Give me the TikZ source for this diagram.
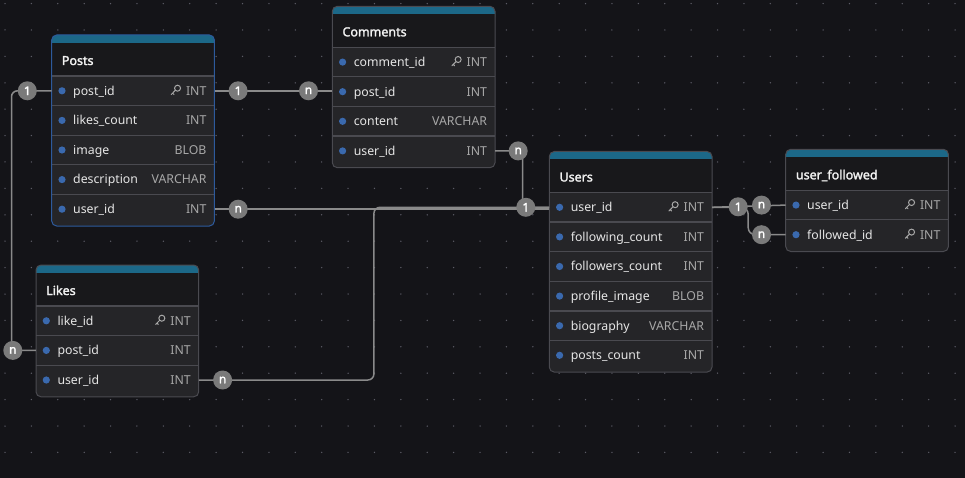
\documentclass[tikz,border=0pt]{standalone}
\usepackage{fontspec}
\setmainfont{Noto Sans}
\newfontfamily\heavysans{Noto Sans}[FakeBold=2]
\usetikzlibrary{calc}
\definecolor{canvasc}{HTML}{141418}
\definecolor{gridc}{HTML}{5C5C66}
\definecolor{rowbg}{HTML}{252528}
\definecolor{headbg}{HTML}{18181B}
\definecolor{borderc}{HTML}{4A4A50}
\definecolor{sepc}{HTML}{4A4A50}
\definecolor{tealc}{HTML}{1C6888}
\definecolor{postb}{HTML}{2D5A9C}
\definecolor{dotc}{HTML}{3A69AE}
\definecolor{namec}{HTML}{E6E6E6}
\definecolor{typec}{HTML}{A8A8A8}
\definecolor{titlec}{HTML}{F2F2F2}
\definecolor{connc}{HTML}{8A8A8A}
\definecolor{badgec}{HTML}{7A7A7A}
\definecolor{keyc}{HTML}{A8A8A8}
\tikzset{
  conn/.style={draw=connc, line width=1.5pt},
  badge/.style={circle, fill=badgec, text=white, minimum size=19pt, inner sep=0pt,
    font=\heavysans\fontsize{12}{12}\selectfont},
  rowbox/.style={minimum width=162.7pt, minimum height=29.6pt, inner sep=0pt},
  namet/.style={text=namec, inner sep=0pt, anchor=base west, font=\fontsize{12.3}{14}\selectfont},
  typet/.style={text=typec, inner sep=0pt, anchor=base east, font=\fontsize{12.3}{14}\selectfont},
  titlet/.style={text=titlec, inner sep=0pt, anchor=base west, font=\heavysans\fontsize{12.5}{14}\selectfont},
}
\newcommand\drawkey[1]{%
  \begin{scope}[shift={(#1)}]
    \draw[keyc, line width=1pt] (-8.3,-2.6) circle (3pt);
    \draw[keyc, line width=1pt, line cap=round] (-10.5,-0.5) -- (-14.5,3.6) (-13.2,2.3) -- (-11.9,3.6);
  \end{scope}}
% #1 id, #2 left, #3 top, #4 title, #5 rows, #6 border colour, #7 row list
\newcommand\ertable[7]{%
  \pgfmathsetmacro\tB{#3+41+#5*29.6+2}
  \fill[rowbg, rounded corners=5pt] (#2,#3) rectangle (#2+162.7,\tB);
  \fill[tealc, rounded corners=5pt] (#2,#3) rectangle (#2+162.7,#3+16);
  \fill[headbg] (#2,#3+8) rectangle (#2+162.7,#3+41);
  \foreach \k in {1,...,#5} {\draw[sepc, line width=1.2pt] (#2,#3+41+\k*29.6-29.6) -- ++(162.7,0);}
  \draw[#6, line width=1pt, rounded corners=5pt] (#2,#3) rectangle (#2+162.7,\tB);
  \node[titlet] (#1-title) at (#2+10,#3+30) {#4};
  \foreach \nm/\ty/\key [count=\i] in {#7} {%
    \node[rowbox] (#1-\i) at (#2+81.35,#3+41+\i*29.6-14.8) {};
    \fill[dotc] ([xshift=10.5pt]#1-\i.west) circle (3.6pt);
    \node[namet] (#1-n\i) at ([xshift=21.5pt,yshift=-4.4pt]#1-\i.west) {\nm};
    \node[typet] (#1-t\i) at ([xshift=-8pt,yshift=-4.4pt]#1-\i.east) {\ty};
    \ifnum\key=1 \drawkey{#1-t\i.west}\fi
  }}
\begin{document}
\begin{tikzpicture}[x=1pt,y=-1pt]
\fill[canvasc] (0,0) rectangle (965,478);
\useasboundingbox (0,0) rectangle (965,478);
\foreach \i in {0,...,36} {\foreach \j in {0,...,18} {\fill[gridc] (5+26.39*\i,3.6+26.4*\j) circle (0.75pt);}}

\ertable{posts}{51.7}{35}{Posts}{5}{postb}{post\_id/INT/1,likes\_count/INT/0,image/BLOB/0,description/VARCHAR/0,user\_id/INT/0}
\ertable{comments}{332.3}{6.3}{Comments}{4}{borderc}{comment\_id/INT/1,post\_id/INT/0,content/VARCHAR/0,user\_id/INT/0}
\ertable{users}{549.3}{151.5}{Users}{6}{borderc}{user\_id/INT/1,following\_count/INT/0,followers\_count/INT/0,profile\_image/BLOB/0,biography/VARCHAR/0,posts\_count/INT/0}
\ertable{uf}{785.7}{149.3}{user\_followed}{2}{borderc}{user\_id/INT/1,followed\_id/INT/1}
\ertable{likes}{36}{265}{Likes}{3}{borderc}{like\_id/INT/1,post\_id/INT/0,user\_id/INT/0}

% connectors
\draw[conn] (posts-1.east) -- (posts-1.east -| comments-2.west);
\draw[conn, rounded corners=6pt] (posts-1.west) -- ++(-40,0) |- (likes-2.west);
\draw[conn, rounded corners=2pt] (comments-4.east) -- ++(27.5,0) |- (users-1.west);
\draw[conn] (posts-5.east) -- (posts-5.east -| users-1.west);
\draw[conn, rounded corners=6pt] (likes-3.east) -- ++(175,0) |- (users-1.west);
\draw[conn] (users-1.east) -- (uf-1.west);
\draw[conn, rounded corners=7pt] (users-1.east) -- ++(36,0) |- (uf-2.west);

% cardinality badges
\node[badge] (bpc1) at ($(posts-1.east)+(23.5,0)$) {1};
\node[badge] (bpcn) at ($(posts-1.east -| comments-2.west)+(-23.6,0)$) {n};
\node[badge] (bpl1) at ($(posts-1.west)+(-24.2,0)$) {1};
\node[badge] (bpln) at ($(likes-2.west)+(-23,0)$) {n};
\node[badge] (bcun) at ($(comments-4.east)+(23,0)$) {n};
\node[badge] (bu1) at ($(users-1.west)+(-23.3,0)$) {1};
\node[badge] (bpun) at ($(posts-5.east)+(23.6,0)$) {n};
\node[badge] (blun) at ($(likes-3.east)+(23.7,0)$) {n};
\node[badge] (buf1) at ($(users-1.east)+(26,-0.5)$) {1};
\node[badge] (buf2) at ($(uf-1.west)+(-24,0)$) {n};
\node[badge] (buf3) at ($(uf-2.west)+(-24,0)$) {n};
\end{tikzpicture}
\end{document}
